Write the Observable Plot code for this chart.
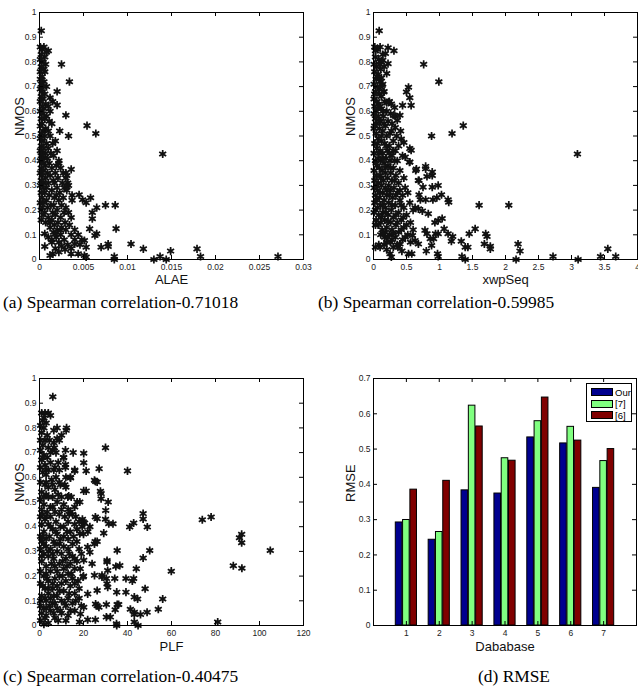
<!DOCTYPE html>
<html><head><meta charset="utf-8">
<script src="https://cdn.jsdelivr.net/npm/d3@7"></script>
<script src="https://cdn.jsdelivr.net/npm/@observablehq/plot@0.6"></script>
<style>
body{margin:0;background:#fff;}
#root{position:relative;width:638px;height:695px;overflow:hidden;font-family:"Liberation Sans",Arial,sans-serif;}
.panel{position:absolute;}
.cap{position:absolute;font-family:"Liberation Serif","Times New Roman",serif;font-size:17.4px;color:#000;white-space:nowrap;line-height:1;}
.legend{position:absolute;background:#fff;border:1px solid #000;box-sizing:border-box;font-size:9.5px;}
.legend .row{position:absolute;left:4px;height:10px;display:flex;align-items:center;}
.legend .sw{width:22px;height:8px;border:1px solid #000;box-sizing:border-box;margin-right:2px;}
</style></head>
<body><div id="root"></div>
<script>
// ---------- tick values ----------
const nmosTicks = [0,0.1,0.2,0.3,0.4,0.5,0.6,0.7,0.8,0.9,1];
const alaeTicks = [0,0.005,0.01,0.015,0.02,0.025,0.03];
const xwpTicks = [0,0.5,1,1.5,2,2.5,3,3.5,4];
const plfTicks = [0,20,40,60,80,100,120];
const rmseTicks = [0,0.1,0.2,0.3,0.4,0.5,0.6,0.7];

// ---------- bar data ----------
const databases = [1,2,3,4,5,6,7];
const seriesNames = ["Our","[7]","[6]"];
const seriesColors = ["#00008F","#80FF80","#800000"];
const rmseOur = [0.292,0.243,0.383,0.374,0.533,0.516,0.390];
const rmse7   = [0.299,0.265,0.623,0.474,0.579,0.563,0.466];
const rmse6   = [0.385,0.410,0.564,0.467,0.646,0.524,0.500];

// ---------- captions ----------
const captionA = "(a) Spearman correlation-0.71018";
const captionB = "(b) Spearman correlation-0.59985";
const captionC = "(c) Spearman correlation-0.40475";
const captionD = "(d) RMSE";

// ---------- scatter data: [feature, NMOS] ----------
const alaePoints = [
[0.0001,0.86],[0.0003,0.85],[0.0005,0.86],[0.0008,0.84],[0.0010,0.845],[0.0002,0.83],[0.0006,0.82],[0.0001,0.81],[0.0004,0.80],[0.0007,0.79],
[0.0002,0.78],[0.0005,0.77],[0.0001,0.76],[0.0006,0.76],[0.0003,0.74],[0.0001,0.73],[0.0005,0.72],[0.0002,0.71],[0.0008,0.70],[0.0004,0.70],
[0.0001,0.69],[0.0003,0.68],[0.0006,0.67],[0.0002,0.66],[0.0004,0.65],[0.0001,0.64],[0.0007,0.63],[0.0003,0.62],[0.0010,0.62],[0.0005,0.61],
[0.0001,0.60],[0.0004,0.59],[0.0008,0.58],[0.0002,0.57],[0.0006,0.57],[0.0011,0.56],[0.0003,0.55],[0.0001,0.54],[0.0007,0.53],[0.0004,0.52],
[0.0010,0.52],[0.0002,0.51],[0.0006,0.50],[0.0012,0.50],[0.0001,0.49],[0.0004,0.48],[0.0008,0.47],[0.0015,0.47],[0.0002,0.46],[0.0005,0.45],
[0.0010,0.45],[0.0001,0.44],[0.0003,0.43],[0.0007,0.43],[0.0013,0.43],[0.0002,0.42],[0.0005,0.41],[0.0009,0.41],[0.0001,0.40],[0.0004,0.39],
[0.0011,0.39],[0.0007,0.38],[0.0002,0.37],[0.0014,0.37],[0.0005,0.36],[0.0009,0.35],[0.0001,0.35],[0.0003,0.34],[0.0012,0.34],[0.0007,0.33],
[0.0002,0.32],[0.0016,0.32],[0.0005,0.31],[0.0010,0.31],[0.0001,0.30],[0.0004,0.29],[0.0008,0.29],[0.0014,0.28],[0.0002,0.27],[0.0006,0.27],
[0.0011,0.26],[0.0003,0.25],[0.0017,0.25],[0.0008,0.24],[0.0001,0.23],[0.0005,0.23],[0.0013,0.22],[0.0003,0.21],[0.0009,0.21],[0.0002,0.20],
[0.0006,0.19],[0.0015,0.19],[0.0004,0.18],[0.0010,0.17],[0.0002,0.16],[0.0007,0.15],[0.0012,0.15],
[0.0019,0.38],[0.0024,0.37],[0.0018,0.35],[0.0027,0.35],[0.0021,0.33],[0.0030,0.33],[0.0017,0.31],[0.0026,0.31],[0.0032,0.31],[0.0020,0.29],
[0.0028,0.29],[0.0023,0.27],[0.0031,0.28],[0.0019,0.26],[0.0027,0.25],[0.0022,0.24],[0.0016,0.22],[0.0025,0.22],[0.0030,0.21],[0.0020,0.20],
[0.0028,0.19],[0.0033,0.19],[0.0018,0.18],[0.0024,0.17],[0.0036,0.17],[0.0014,0.16],[0.0021,0.15],[0.0029,0.15],[0.0017,0.14],[0.0025,0.13],
[0.0034,0.14],[0.0012,0.13],[0.0020,0.12],[0.0030,0.12],[0.0040,0.12],[0.0016,0.11],[0.0024,0.10],[0.0036,0.10],[0.0044,0.10],[0.0010,0.09],
[0.0019,0.09],[0.0028,0.08],[0.0040,0.08],[0.0048,0.08],[0.0014,0.07],[0.0022,0.07],[0.0032,0.06],[0.0046,0.06],[0.0025,0.055],[0.0018,0.045],
[0.0036,0.045],[0.0022,0.03],[0.0018,0.48],[0.0020,0.44],[0.0016,0.42],[0.0022,0.40],[0.0014,0.55],[0.0012,0.60],[0.0015,0.64],
[0.0030,0.35],[0.0031,0.34],[0.0033,0.30],[0.0031,0.295],[0.0022,0.39],
[0.0002,0.926],[0.0025,0.79],[0.0034,0.72],[0.0020,0.68],[0.0012,0.655],[0.0020,0.625],[0.0030,0.584],[0.0054,0.542],[0.0064,0.51],[0.0033,0.50],
[0.0023,0.52],[0.0140,0.427],[0.0036,0.365],[0.0045,0.262],[0.0037,0.26],[0.0037,0.24],[0.0049,0.242],[0.0053,0.23],[0.0058,0.25],[0.0065,0.21],
[0.0075,0.22],[0.0086,0.22],[0.0060,0.19],[0.0060,0.165],[0.0087,0.125],[0.0057,0.124],[0.0065,0.104],[0.0063,0.097],[0.0070,0.05],[0.0078,0.053],
[0.0078,0.063],[0.0104,0.063],[0.0118,0.043],[0.0085,0.012],[0.0085,0.0],[0.0130,0.0],[0.0137,0.012],[0.0144,0.0],[0.0149,0.034],[0.0179,0.043],
[0.0183,0.012],[0.0271,0.012],[0.0044,0.023],[0.0036,0.023],[0.0040,0.063],[0.0051,0.077],[0.0053,0.05],[0.0051,0.016],[0.0053,0.01],[0.0029,0.04],
[0.0015,0.023],[0.0012,0.016],[0.0006,0.053],[0.0006,0.104],[0.0014,0.08],[0.0018,0.104],[0.0024,0.118]
];

const xwpPoints = [
[0.02,0.86],[0.06,0.85],[0.10,0.86],[0.14,0.83],[0.03,0.82],[0.08,0.81],[0.01,0.79],[0.05,0.78],[0.11,0.77],[0.16,0.78],
[0.02,0.76],[0.07,0.75],[0.04,0.73],[0.10,0.72],[0.01,0.71],[0.14,0.71],[0.06,0.70],[0.03,0.68],[0.09,0.67],[0.12,0.66],
[0.01,0.65],[0.05,0.64],[0.17,0.64],[0.24,0.64],[0.08,0.63],[0.02,0.62],[0.12,0.61],[0.27,0.63],[0.04,0.60],[0.20,0.60],
[0.01,0.59],[0.07,0.58],[0.15,0.58],[0.33,0.58],[0.03,0.57],[0.11,0.56],[0.22,0.56],[0.05,0.55],[0.18,0.54],[0.28,0.55],
[0.01,0.53],[0.09,0.53],[0.14,0.52],[0.25,0.51],[0.04,0.51],[0.20,0.50],[0.35,0.50],[0.07,0.49],[0.12,0.48],[0.30,0.48],
[0.02,0.47],[0.17,0.47],[0.24,0.46],[0.38,0.46],[0.05,0.45],[0.10,0.44],[0.21,0.44],[0.33,0.44],[0.01,0.43],[0.14,0.43],
[0.28,0.42],[0.44,0.42],[0.07,0.41],[0.19,0.41],[0.03,0.40],[0.11,0.40],[0.25,0.40],[0.36,0.40],[0.16,0.39],[0.05,0.38],
[0.22,0.38],[0.30,0.37],[0.09,0.37],[0.01,0.36],[0.13,0.36],[0.40,0.36],[0.18,0.35],[0.26,0.35],
[0.04,0.34],[0.10,0.34],[0.34,0.34],[0.21,0.33],[0.46,0.33],[0.02,0.32],[0.15,0.32],[0.28,0.32],[0.07,0.31],[0.38,0.31],
[0.12,0.30],[0.23,0.30],[0.01,0.29],[0.18,0.29],[0.31,0.29],[0.48,0.29],[0.06,0.28],[0.26,0.28],[0.14,0.27],[0.36,0.27],
[0.03,0.26],[0.20,0.26],[0.44,0.26],[0.52,0.27],[0.09,0.25],[0.29,0.25],[0.16,0.24],[0.40,0.24],[0.02,0.23],[0.23,0.23],
[0.55,0.23],[0.11,0.22],[0.33,0.22],[0.06,0.21],[0.18,0.21],[0.46,0.21],[0.27,0.20],[0.60,0.20],[0.01,0.19],[0.14,0.19],
[0.38,0.19],[0.08,0.18],[0.22,0.18],[0.50,0.18],[0.30,0.17],[0.04,0.16],[0.17,0.16],[0.42,0.16],[0.11,0.15],[0.26,0.15],
[0.56,0.15],[0.07,0.14],[0.34,0.14],[0.20,0.13],[0.46,0.13],[0.13,0.12],[0.28,0.12],[0.60,0.12],[0.38,0.11],[0.11,0.10],
[0.24,0.10],[0.52,0.10],[0.17,0.09],[0.33,0.09],[0.44,0.08],[0.26,0.07],[0.56,0.07],[0.36,0.06],[0.20,0.07],
[0.03,0.845],[0.12,0.80],[0.09,0.79],[0.05,0.74],[0.08,0.69],[0.02,0.67],[0.16,0.68],[0.10,0.62],[0.06,0.61],[0.14,0.60],
[0.26,0.59],[0.09,0.56],[0.16,0.55],[0.02,0.54],[0.12,0.50],[0.27,0.52],[0.06,0.47],[0.19,0.46],[0.30,0.44],[0.08,0.43],
[0.24,0.43],[0.14,0.41],[0.32,0.40],[0.04,0.39],[0.18,0.37],[0.26,0.37],[0.11,0.33],[0.32,0.32],[0.05,0.30],[0.20,0.28],
[0.40,0.28],[0.10,0.27],[0.24,0.26],[0.34,0.26],[0.05,0.24],[0.14,0.22],[0.28,0.22],[0.42,0.22],[0.03,0.20],[0.19,0.19],
[0.34,0.18],[0.12,0.17],[0.45,0.17],[0.22,0.155],[0.36,0.15],[0.50,0.14],[0.03,0.14],[0.42,0.12],[0.18,0.11],[0.30,0.105],
[0.48,0.09],[0.08,0.06],[0.28,0.08],[0.16,0.06],
[0.086,0.926],[0.76,0.79],[0.99,0.72],[1.36,0.542],[1.19,0.51],[0.88,0.50],[3.09,0.427],[1.60,0.22],[2.05,0.22],[1.54,0.124],
[1.45,0.104],[1.70,0.104],[1.72,0.093],[1.77,0.054],[1.77,0.043],[1.68,0.063],[2.19,0.063],[2.22,0.034],[2.16,0],[2.72,0.012],
[3.10,0],[3.44,0.012],[3.55,0.043],[3.67,0.012],[1.39,0.05],[1.43,0.05],[1.33,0.074],[1.34,0.012],[1.39,0],[1.18,0.074],
[1.20,0.093],[1.13,0.104],[1.07,0.124],[1.04,0.166],[1.13,0.242],[1.14,0.232],[1.03,0.262],[0.98,0.30],[0.96,0.25],[0.90,0.242],
[0.89,0.293],[0.89,0.354],[0.89,0.34],[0.79,0.377],[0.79,0.367],[0.81,0.336],[0.69,0.32],[0.65,0.366],[0.75,0.293],[0.69,0.262],
[0.71,0.242],[0.79,0.242],[0.83,0.185],[0.74,0.196],[0.68,0.205],[0.63,0.21],[0.98,0.158],[0.93,0.15],[0.98,0.104],[0.94,0.104],
[0.91,0.084],[0.86,0.084],[0.81,0.104],[0.78,0.118],[0.88,0.057],[0.80,0.034],[0.97,0.023],[0.98,0.012],[0.68,0.063],[0.63,0.077],
[0.59,0.097],[0.53,0.023],[0.58,0.023],[0.43,0.034],[0.30,0.05],[0.25,0.023],[0.27,0.01],[0.20,0.04],[0.10,0.05],[0.03,0.05],
[0.15,0.104],[0.22,0.09],[0.37,0.05],[0.40,0.063],[0.53,0.697],[0.50,0.678],[0.55,0.655],[0.57,0.624],[0.44,0.624],[0.40,0.584],
[0.32,0.615],[0.31,0.584],[0.36,0.564],[0.33,0.534],[0.41,0.52],[0.42,0.488],[0.46,0.474],[0.55,0.449],[0.57,0.442],[0.55,0.395],
[0.48,0.415],[0.22,0.857],[0.31,0.845],[0.18,0.834],[0.22,0.793],[0.20,0.753],[0.12,0.735],[0.13,0.704],[0.15,0.678],[0.20,0.635],
[0.23,0.638],[0.14,0.807],[0.545,0.394],[0.64,0.36],[0.68,0.32]
];

const plfPoints = [
[1,0.86],[2.5,0.86],[4,0.86],[5,0.85],[1.5,0.83],[3,0.82],[0.5,0.81],[2,0.80],[6.5,0.79],[8,0.80],
[12.1,0.79],[1,0.78],[3.5,0.77],[10,0.77],[0.5,0.75],[2.5,0.75],[6.5,0.74],[9,0.75],[1.5,0.73],[4,0.72],
[0.5,0.71],[6,0.71],[7.5,0.70],[11.8,0.71],[2,0.69],[3.5,0.68],[11,0.68],[1,0.67],[5,0.66],[8.5,0.66],
[2.5,0.65],[0.5,0.64],[4,0.63],[6.5,0.63],[9,0.63],[11.8,0.64],[16,0.63],[1.5,0.62],[3,0.61],[7.5,0.60],
[12,0.60],[14,0.60],[5.5,0.59],[0.5,0.58],[2.5,0.57],[9.5,0.57],[11.5,0.57],[12.3,0.80],[8,0.757],[6.8,0.72],
[4,0.56],[7,0.55],[1,0.54],[3,0.53],[6,0.52],[10,0.52],[0.5,0.51],[8,0.50],[2,0.49],[5,0.48],
[11,0.49],[13,0.47],[16,0.48],[1,0.47],[3.5,0.46],[7,0.46],[9,0.45],[15,0.45],[0.5,0.44],[5,0.44],
[11.5,0.44],[2.5,0.43],[7.5,0.42],[13,0.42],[18,0.42],[1,0.41],[4,0.41],[9.5,0.40],[11,0.40],[16,0.41],
[6,0.39],[14,0.38],[2,0.38],[8,0.37],[0.5,0.36],[4.5,0.36],[11,0.36],[20,0.37],[22,0.38],[3,0.35],[13,0.35],
[1,0.34],[6.5,0.34],[9,0.33],[15,0.33],[17,0.34],[3,0.32],[11,0.32],[0.5,0.31],[5,0.31],[13,0.31],
[18,0.31],[8,0.30],[2,0.29],[10,0.29],[15,0.28],[19,0.29],[4,0.28],[12,0.27],[6.5,0.27],[17,0.26],
[1,0.26],[9,0.25],[14,0.25],[3,0.24],[7,0.24],[11,0.23],[16,0.23],[18.5,0.23],[0.5,0.22],[5,0.22],
[13,0.21],[9,0.20],[2,0.20],[20,0.20],[15,0.19],[7,0.19],[12,0.18],[17.5,0.18],[4,0.18],[0.5,0.17],
[10,0.17],[8,0.16],[14,0.16],[2.5,0.15],[18,0.15],[6,0.15],
[11,0.14],[16,0.13],[4,0.13],[1,0.12],[8,0.12],[13,0.11],[18,0.11],[3,0.10],[10,0.10],[6,0.09],
[15,0.09],[0.5,0.08],[12,0.08],[19,0.08],[2,0.07],[8,0.07],[5,0.06],[14,0.06],[1,0.05],[10,0.05],
[3,0.04],[7,0.03],[0.5,0.02],[12,0.02],[4,0.01],[2,0.005],
[14,0.46],[16.5,0.44],[12.5,0.38],[15.5,0.36],[9.5,0.35],[7,0.33],[13.5,0.29],[16,0.27],[10.5,0.26],[5.5,0.25],
[12.5,0.24],[8,0.22],[14.5,0.21],[10.5,0.20],[3.5,0.19],[16,0.17],[6,0.17],[9,0.14],[13.5,0.13],[6.5,0.12],
[2.5,0.11],[16.5,0.10],[11.5,0.09],[4.5,0.08],[9.5,0.06],[16,0.06],[6.5,0.05],[13,0.04],[2.5,0.03],[8.5,0.02],
[1.5,0.36],[1.5,0.45],[2,0.52],[3,0.58],[1.5,0.68],[4.5,0.75],[2,0.84],[3,0.63],[5,0.70],[7,0.64],
[4,0.52],[6,0.48],[8.5,0.53],[10,0.47],[9,0.58],[6,0.57],[12,0.56],[13.5,0.45],[17,0.39],[5,0.40],
[3,0.44],[7.5,0.38],[2,0.33],[4,0.30],[6,0.29],[1,0.28],[3,0.21],[1.5,0.16],[4,0.15],[0.5,0.10],
[3,0.07],[7,0.09],[5,0.11],
[6.05,0.926],[30.0,0.72],[40.0,0.626],[74.0,0.428],[78.0,0.439],[88.1,0.242],[90.9,0.355],[91.9,0.369],[91.9,0.335],[92.0,0.232],
[104.9,0.304],[81.0,0.014],[59.9,0.22],[56.0,0.107],[54.0,0.066],[50.1,0.304],[48.9,0.054],[49.0,0.399],[47.1,0.453],[47.1,0.431],
[47.1,0.273],[48.0,0.149],[45.9,0.045],[44.8,0.0],[44.0,0.23],[42.8,0.415],[41.0,0.399],[42.8,0.19],[42.2,0.18],[43.1,0.115],
[44.6,0.107],[43.1,0.054],[43.1,0.045],[41.3,0.066],[43.1,0.014],[39.3,0.19],[39.3,0.135],[35.3,0.304],[36.5,0.243],[34.7,0.239],
[34.2,0.19],[35.1,0.135],[35.3,0.085],[36.0,0.085],[34.4,0.064],[35.0,0.007],[35.1,0.0],[33.4,0.412],[31.5,0.412],[30.0,0.43],
[31.2,0.5],[28.0,0.534],[28.0,0.513],[27.1,0.635],[26.2,0.581],[25.0,0.588],[30.1,0.466],[29.2,0.374],[30.7,0.257],[30.7,0.263],
[31.0,0.223],[30.4,0.19],[30.7,0.169],[31.0,0.155],[30.4,0.085],[30.4,0.034],[32.2,0.034],[28.4,0.196],[28.4,0.203],[26.2,0.34],
[25.3,0.34],[25.0,0.33],[25.4,0.439],[26.2,0.432],[25.4,0.023],[21.9,0.023],[18.2,0.014],[25.0,0.203],[26.2,0.142],[26.2,0.08],
[25.5,0.087],[27.0,0.074],[20.1,0.697],[20.1,0.659],[21.2,0.626],[20.1,0.545],[21.2,0.545],[18.3,0.50],[17.1,0.50],[16.0,0.626],
[14.1,0.597],[13.3,0.524],[12.9,0.52],[14.4,0.52],[19.5,0.43],[19.9,0.42],[20.5,0.415],[19.4,0.40],[18.3,0.372],[22.9,0.40],
[21.9,0.318],[22.9,0.297],[20.1,0.264],[23.9,0.25],[19.8,0.196],[21.9,0.128],[20.1,0.074],[18.6,0.047],[15.3,0.70],[25.5,0.583],
[27.7,0.543],[11.8,0.652],[10.9,0.68]
];

// ---------- helpers ----------
const FONT = "'Liberation Sans', Arial, sans-serif";
function frameTicks(xt, yt, fw, fh) {
  const L = 4;
  return [
    Plot.tickX(xt, {x: d => d, insetTop: fh - L, stroke: "#000"}),
    Plot.tickX(xt, {x: d => d, insetBottom: fh - L, stroke: "#000"}),
    Plot.tickY(yt, {y: d => d, insetRight: fw - L, stroke: "#000"}),
    Plot.tickY(yt, {y: d => d, insetLeft: fw - L, stroke: "#000"})
  ];
}
function axesText(xt, yt) {
  return [
    Plot.axisX(xt, {tickSize: 0, tickPadding: 4, label: null, tickFormat: d => String(d), fontSize: 8.5, fill: "#222"}),
    Plot.axisY(yt, {tickSize: 0, tickPadding: 3, label: null, tickFormat: d => String(d), fontSize: 8.5, fill: "#222"})
  ];
}
function labels(xl, yl, xdy, ydx) {
  return [
    Plot.text([xl], {text: d => d, frameAnchor: "bottom", dy: xdy, fontSize: 13, fill: "#111"}),
    Plot.text([yl], {text: d => d, frameAnchor: "left", dx: ydx, rotate: -90, fontSize: 13, fill: "#111"})
  ];
}
function scatter(points, xt, xl, cfg) {
  const fw = cfg.width - cfg.ml - cfg.mr, fh = cfg.height - cfg.mt - cfg.mb;
  return Plot.plot({
    width: cfg.width, height: cfg.height,
    marginLeft: cfg.ml, marginRight: cfg.mr, marginTop: cfg.mt, marginBottom: cfg.mb,
    style: {fontFamily: FONT, background: "transparent", overflow: "visible"},
    x: {domain: [xt[0], xt[xt.length - 1]]},
    y: {domain: [0, 1]},
    marks: [
      Plot.dot(points, {x: d => d[0], y: d => d[1], r: 2.6, fill: "#888", fillOpacity: 0.55, stroke: "none"}),
      Plot.dot(points, {x: d => d[0], y: d => d[1], symbol: "asterisk", r: 3.8, stroke: "#111", strokeWidth: 1.7}),
      Plot.frame({stroke: "#000"}),
      ...frameTicks(xt, nmosTicks, fw, fh),
      ...axesText(xt, nmosTicks),
      ...labels(xl, "NMOS", cfg.xdy, cfg.ydx)
    ]
  });
}
function place(node, left, top) {
  const d = document.createElement("div");
  d.className = "panel";
  d.style.left = left + "px"; d.style.top = top + "px";
  d.appendChild(node);
  document.getElementById("root").appendChild(d);
}
function caption(text, left, top) {
  const d = document.createElement("div");
  d.className = "cap"; d.textContent = text;
  d.style.left = left + "px"; d.style.top = top + "px";
  document.getElementById("root").appendChild(d);
}

// ---------- panels ----------
place(scatter(alaePoints, alaeTicks, "ALAE", {width: 318, height: 300, ml: 39, mr: 15, mt: 12, mb: 41, xdy: 24, ydx: -20}), 0, 0);
place(scatter(xwpPoints, xwpTicks, "xwpSeq", {width: 320, height: 300, ml: 55, mr: 1, mt: 12, mb: 41, xdy: 24, ydx: -23}), 318, 0);
place(scatter(plfPoints, plfTicks, "PLF", {width: 318, height: 335, ml: 39, mr: 15, mt: 48, mb: 40, xdy: 25, ydx: -20}), 0, 330);

// bar chart
(function() {
  const W = 320, H = 335, ml = 55, mr = 2, mt = 48, mb = 40;
  const fw = W - ml - mr, fh = H - mt - mb;
  const values = [rmseOur, rmse7, rmse6];
  const rows = databases.flatMap((db, i) => values.map((arr, j) => ({db, j, v: arr[i], color: seriesColors[j]})));
  const off = 0.222, half = 0.1;
  const chart = Plot.plot({
    width: W, height: H, marginLeft: ml, marginRight: mr, marginTop: mt, marginBottom: mb,
    style: {fontFamily: FONT, background: "transparent", overflow: "visible"},
    x: {domain: [0, 8]},
    y: {domain: [0, 0.7]},
    color: {type: "identity"},
    marks: [
      Plot.rectY(rows, {x1: d => d.db + (d.j - 1) * off - half, x2: d => d.db + (d.j - 1) * off + half, y1: 0, y2: d => d.v, fill: d => d.color, stroke: "#000", strokeWidth: 1}),
      Plot.frame({stroke: "#000"}),
      ...frameTicks(databases, rmseTicks, fw, fh),
      ...axesText(databases, rmseTicks),
      ...labels("Dababase", "RMSE", 25, -23)
    ]
  });
  place(chart, 318, 330);
  // legend
  const lg = document.createElement("div");
  lg.className = "legend";
  Object.assign(lg.style, {left: "586px", top: "383px", width: "46px", height: "39px"});
  seriesNames.forEach((name, j) => {
    const row = document.createElement("div");
    row.className = "row";
    row.style.top = (3 + j * 11.5) + "px";
    const sw = document.createElement("div");
    sw.className = "sw"; sw.style.background = seriesColors[j];
    const t = document.createElement("span"); t.textContent = name;
    row.appendChild(sw); row.appendChild(t);
    lg.appendChild(row);
  });
  document.getElementById("root").appendChild(lg);
})();

caption(captionA, 3, 294);
caption(captionB, 318, 294);
caption(captionC, 3, 668);
caption(captionD, 478, 668);
</script></body></html>
